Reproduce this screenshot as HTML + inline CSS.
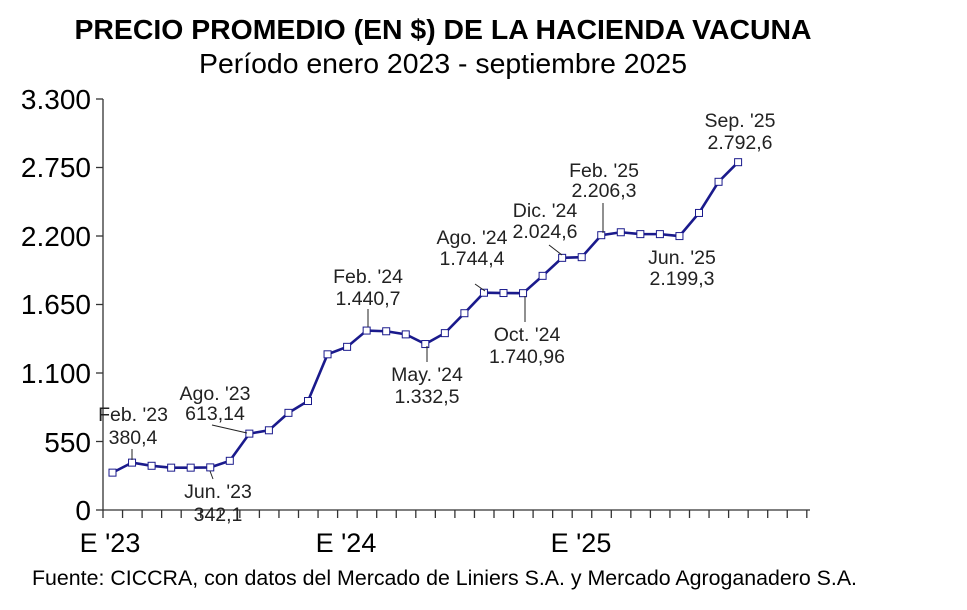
<!DOCTYPE html>
<html><head><meta charset="utf-8"><style>
body{margin:0;background:#fff;}
svg{display:block;font-family:"Liberation Sans",Arial,sans-serif;}
</style></head><body>
<svg id="s" width="967" height="610" viewBox="0 0 967 610" xmlns="http://www.w3.org/2000/svg">
<text x="443" y="39" font-size="28" font-weight="bold" text-anchor="middle" textLength="737" lengthAdjust="spacingAndGlyphs">PRECIO PROMEDIO (EN $) DE LA HACIENDA VACUNA</text>
<text x="443" y="73" font-size="28" text-anchor="middle" textLength="488" lengthAdjust="spacingAndGlyphs">Período enero 2023 - septiembre 2025</text>
<g font-size="28" text-anchor="end">
<text x="91" y="109">3.300</text><text x="91" y="177">2.750</text><text x="91" y="246">2.200</text>
<text x="91" y="314">1.650</text><text x="91" y="383">1.100</text><text x="91" y="452">550</text><text x="91" y="520">0</text>
</g>
<g font-size="27" text-anchor="middle"><text x="110" y="552">E '23</text><text x="346" y="552">E '24</text><text x="581" y="552">E '25</text></g>
<text x="32" y="585" font-size="21" textLength="825" lengthAdjust="spacingAndGlyphs">Fuente: CICCRA, con datos del Mercado de Liniers S.A. y Mercado Agroganadero S.A.</text>
<g id="ax" stroke="#333" stroke-width="1.3" fill="none"></g>
<g id="ser"></g>
<g font-size="19.5" text-anchor="middle" fill="#222">
<text x="133" y="421">Feb. '23</text><text x="133" y="444">380,4</text>
<text x="215" y="400">Ago. '23</text><text x="215" y="420">613,14</text>
<text x="218" y="498">Jun. '23</text><text x="218" y="521">342,1</text>
<text x="368" y="283">Feb. '24</text><text x="368" y="305">1.440,7</text>
<text x="427" y="381">May. '24</text><text x="427" y="403">1.332,5</text>
<text x="472" y="244">Ago. '24</text><text x="472" y="265">1.744,4</text>
<text x="527" y="341">Oct. '24</text><text x="527" y="363">1.740,96</text>
<text x="545" y="217">Dic. '24</text><text x="545" y="238">2.024,6</text>
<text x="604" y="177">Feb. '25</text><text x="604" y="197">2.206,3</text>
<text x="682" y="264">Jun. '25</text><text x="682" y="285">2.199,3</text>
<text x="740" y="127">Sep. '25</text><text x="740" y="149">2.792,6</text>
</g>
<g stroke="#222" stroke-width="1">
<line x1="132" y1="449" x2="132" y2="460"/><line x1="212" y1="425" x2="247" y2="433"/>
<line x1="210" y1="471" x2="213" y2="479"/><line x1="368" y1="309" x2="368" y2="327"/>
<line x1="427" y1="346" x2="427" y2="362"/><line x1="475" y1="284" x2="485" y2="291"/>
<line x1="525" y1="296" x2="525" y2="322"/><line x1="549" y1="245" x2="562" y2="255"/>
<line x1="603" y1="203" x2="603" y2="233"/>
</g>
</svg>
<script>
var v=[300,380.4,355,340,340,342.1,395,613.14,640,780,875,1250,1310,1440.7,1435,1410,1332.5,1420,1580,1744.4,1742,1740.96,1880,2024.6,2030,2206.3,2230,2215,2215,2199.3,2385,2635,2792.6];
var ns="http://www.w3.org/2000/svg";
function el(p,t,a){var e=document.createElementNS(ns,t);for(var k in a)e.setAttribute(k,a[k]);p.appendChild(e);return e;}
var ax=document.getElementById('ax'),ser=document.getElementById('ser');
el(ax,'line',{x1:103,y1:99,x2:103,y2:510});
el(ax,'line',{x1:103,y1:510,x2:810,y2:510});
for(var i=0;i<=6;i++){var y=510-i*68.5;el(ax,'line',{x1:96,y1:y,x2:103,y2:y});}
for(var i=0;i<=36;i++){var x=103+i*19.55;el(ax,'line',{x1:x,y1:510,x2:x,y2:518});}
var pts=v.map(function(d,i){return [112.5+i*19.55,510-d*0.12455];});
el(ser,'polyline',{points:pts.map(function(p){return p.join(',')}).join(' '),fill:'none',stroke:'#1a1a8c','stroke-width':2.6});
pts.forEach(function(p){el(ser,'rect',{x:p[0]-3.5,y:p[1]-3.5,width:7,height:7,fill:'#fff',stroke:'#1a1a8c','stroke-width':1});});
</script>
</body></html>
